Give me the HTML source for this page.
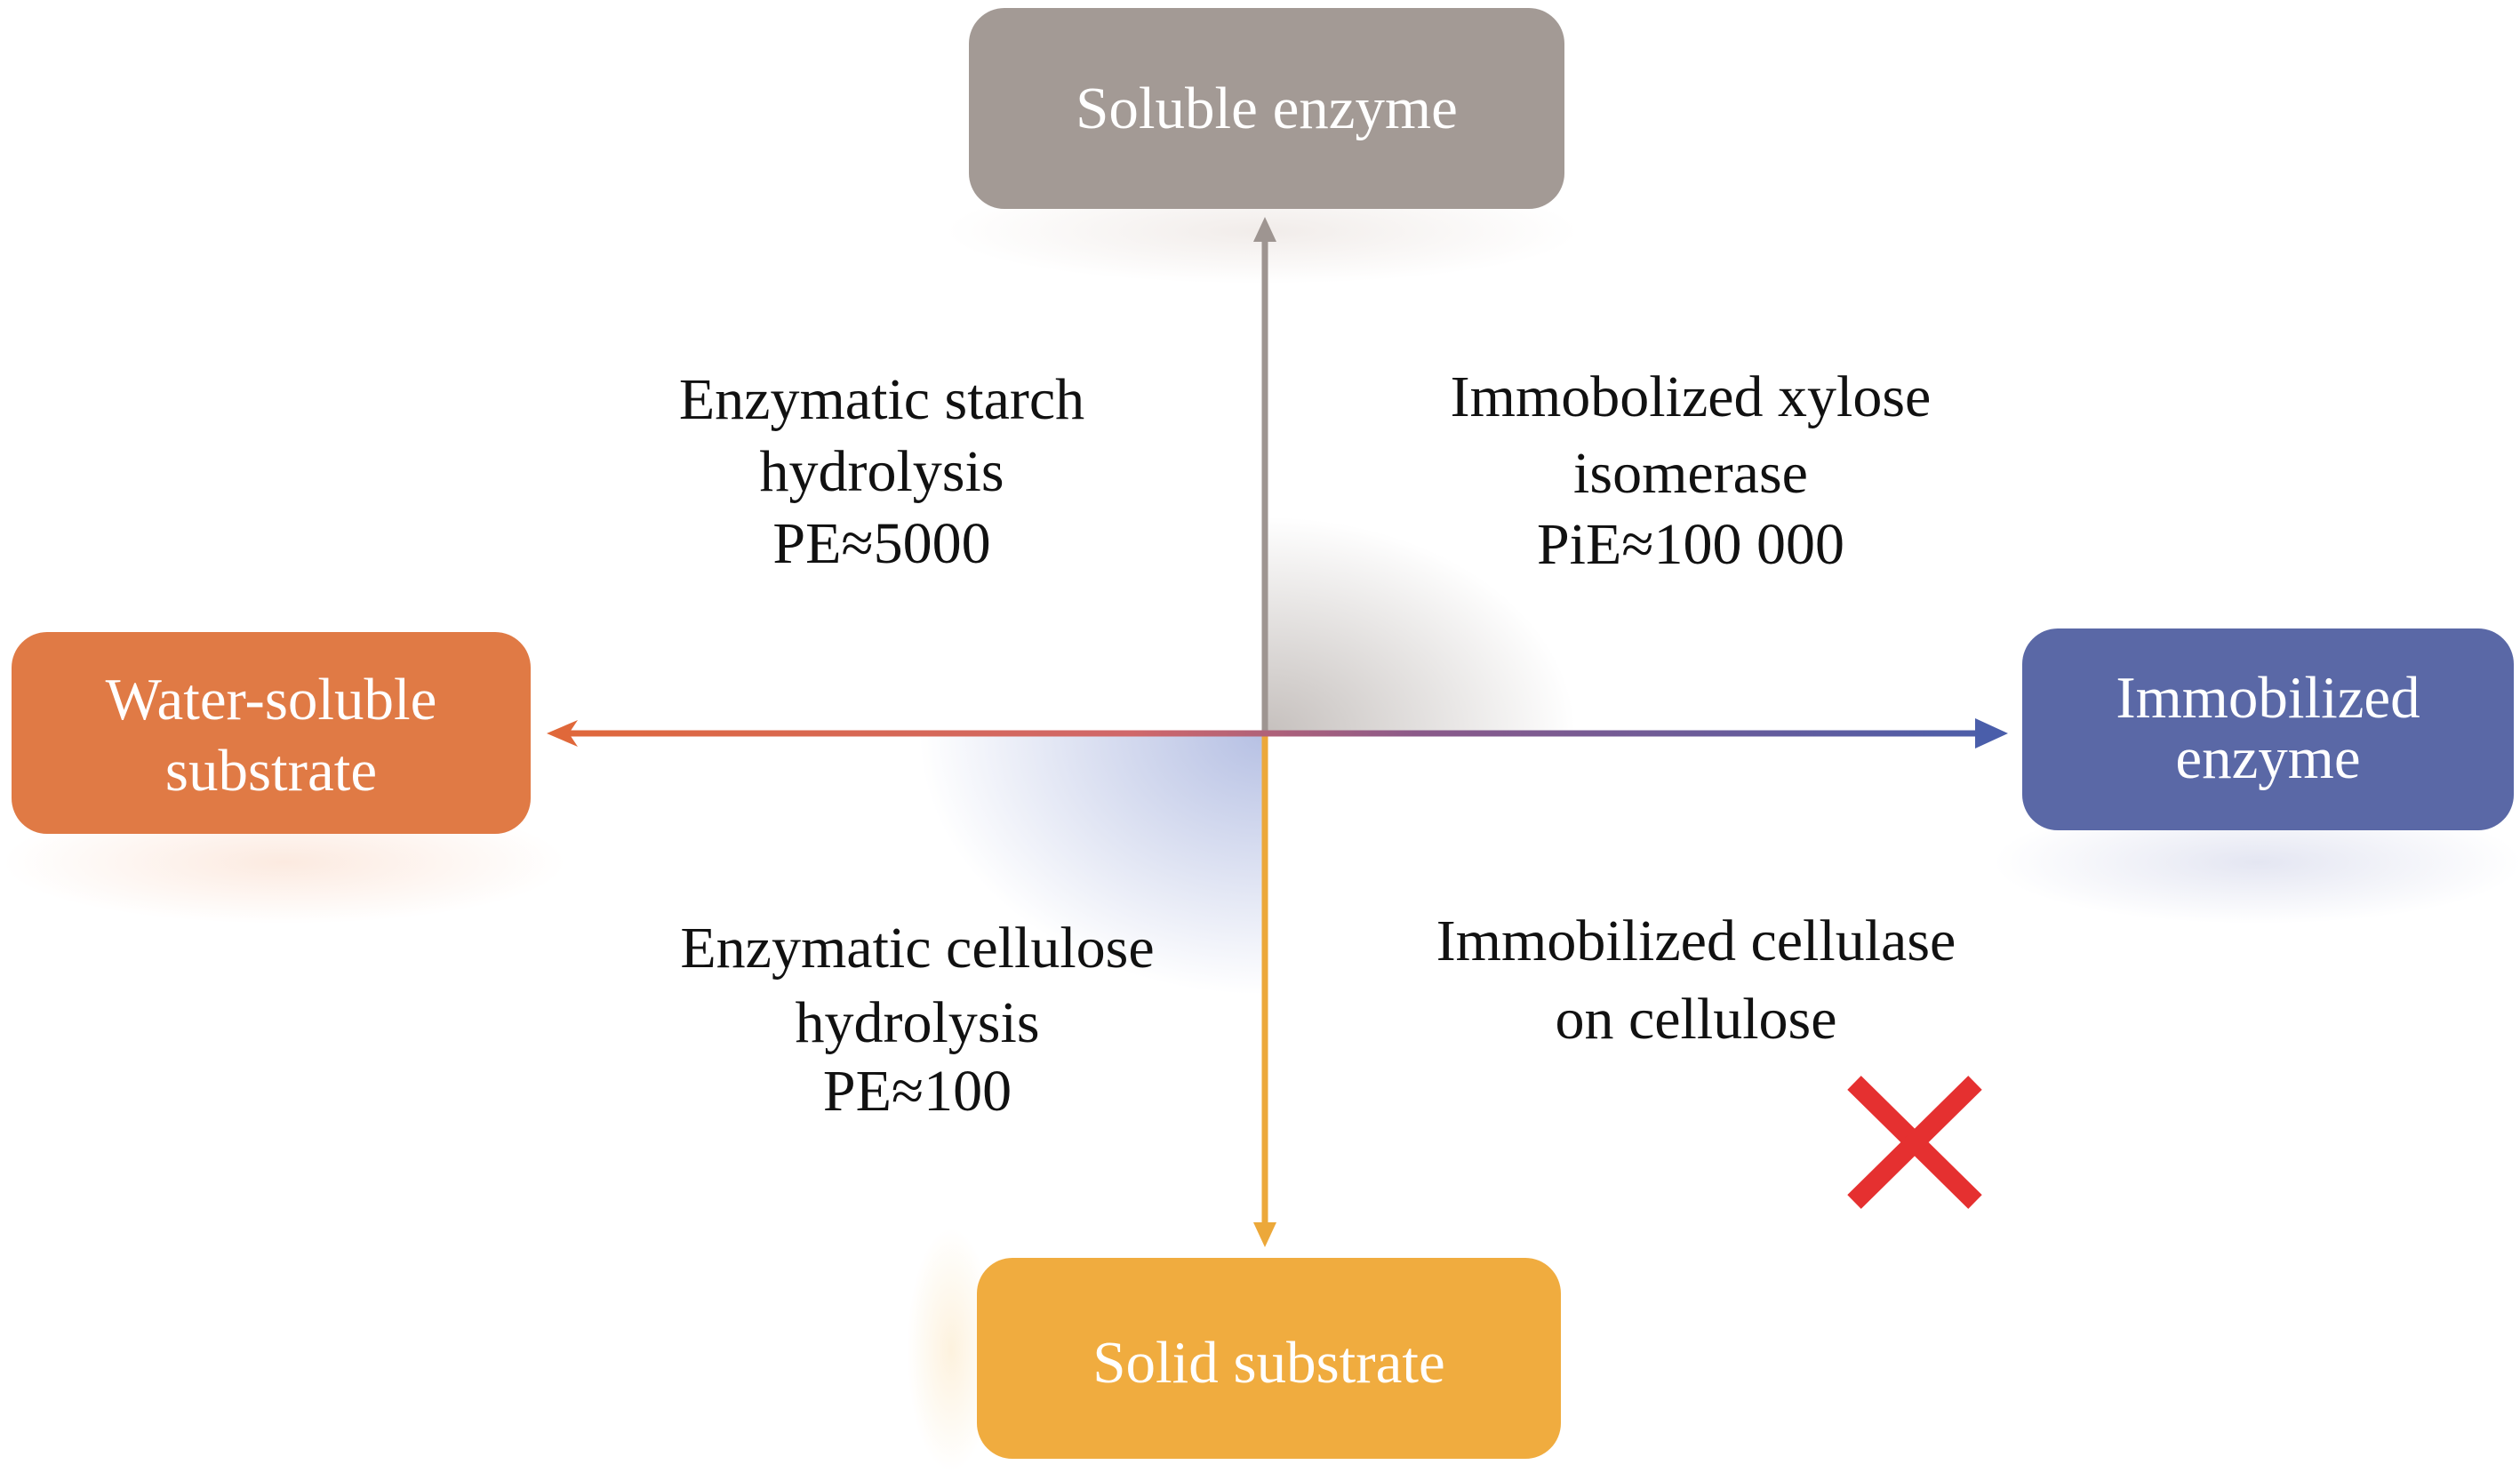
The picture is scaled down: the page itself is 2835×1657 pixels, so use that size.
<!DOCTYPE html>
<html><head><meta charset="utf-8"><style>
html,body{margin:0;padding:0;background:#fff;}
#c{position:relative;width:2835px;height:1657px;overflow:hidden;background:#fff;font-family:"Liberation Serif",serif;}
.box{position:absolute;border-radius:40px;color:#fff;font-size:67px;text-align:center;}
.t{position:absolute;width:800px;text-align:center;font-size:66px;color:#111;line-height:1;}
.line{position:absolute;white-space:nowrap;}
</style></head><body><div id="c">
<div style="position:absolute;left:1060px;top:200px;width:720px;height:120px;background:radial-gradient(ellipse at center,rgba(200,180,170,0.25),rgba(255,255,255,0) 70%);"></div>
<div style="position:absolute;left:0;top:900px;width:640px;height:140px;background:radial-gradient(ellipse at center,rgba(240,150,100,0.2),rgba(255,255,255,0) 70%);"></div>
<div style="position:absolute;left:2240px;top:900px;width:600px;height:140px;background:radial-gradient(ellipse at center,rgba(120,130,190,0.2),rgba(255,255,255,0) 70%);"></div>
<div style="position:absolute;left:1020px;top:1380px;width:100px;height:277px;background:radial-gradient(ellipse at center,rgba(245,190,90,0.2),rgba(255,255,255,0) 70%);"></div>
<div style="position:absolute;left:1423px;top:560px;width:380px;height:265px;background:radial-gradient(ellipse at 0% 100%,rgba(150,140,135,0.55),rgba(255,255,255,0) 65%);"></div>
<div style="position:absolute;left:1000px;top:825px;width:423px;height:320px;background:radial-gradient(ellipse at 100% 0%,rgba(110,130,200,0.5),rgba(255,255,255,0) 65%);"></div>

<svg style="position:absolute;left:0;top:0" width="2835" height="1657">
<defs>
<linearGradient id="gh" x1="615" y1="0" x2="2259" y2="0" gradientUnits="userSpaceOnUse">
<stop offset="0" stop-color="#e0683a"/><stop offset="0.4" stop-color="#d0686a"/><stop offset="0.6" stop-color="#8a5a8a"/><stop offset="1" stop-color="#4a5eaa"/></linearGradient>
</defs>
<line x1="1423" y1="262" x2="1423" y2="825" stroke="#9e9591" stroke-width="7"/>
<polygon points="1423,244 1410,272 1436,272" fill="#9e9591"/>
<line x1="1423" y1="825" x2="1423" y2="1385" stroke="#eca83a" stroke-width="7"/>
<polygon points="1423,1403 1410,1375 1436,1375" fill="#eca83a"/>
<line x1="635" y1="825" x2="2240" y2="825" stroke="url(#gh)" stroke-width="7"/>
<polygon points="615,825 650,810 640,825 650,840" fill="#e0683a"/>
<polygon points="2259,825 2222,808 2222,842" fill="#4a5eaa"/>
<g stroke="#e53030" stroke-width="22" stroke-linecap="butt">
<line x1="2086" y1="1218" x2="2222" y2="1352"/><line x1="2222" y1="1218" x2="2086" y2="1352"/></g>
</svg>

<div class="box" style="left:1090px;top:9px;width:670px;height:226px;background:#a39a95;"><div class="line" style="position:absolute;left:0;right:0;top:78px;line-height:70px;">Soluble enzyme</div></div>
<div class="box" style="left:13px;top:711px;width:584px;height:227px;background:#e07a45;"><div style="position:absolute;left:0;right:0;top:36px;line-height:80px;">Water-soluble<br>substrate</div></div>
<div class="box" style="left:2275px;top:707px;width:553px;height:227px;background:#5a68a6;"><div style="position:absolute;left:0;right:0;top:44px;line-height:68px;">Immobilized<br>enzyme</div></div>
<div class="box" style="left:1099px;top:1415px;width:657px;height:226px;background:#f0ac3f;"><div style="position:absolute;left:0;right:0;top:83px;line-height:70px;">Solid substrate</div></div>

<div class="t" style="left:592px;top:409px;"><div style="line-height:81px">Enzymatic starch<br>hydrolysis<br>PE≈5000</div></div>
<div class="t" style="left:1502px;top:401px;"><div style="line-height:92px">Immobolized xylose</div><div style="line-height:80px">isomerase<br>PiE≈100 000</div></div>
<div class="t" style="left:632px;top:1021px;"><div style="line-height:91px">Enzymatic cellulose</div><div style="line-height:77px">hydrolysis<br>PE≈100</div></div>
<div class="t" style="left:1508px;top:1015px;"><div style="line-height:88px">Immobilized cellulase<br>on cellulose</div></div>
</div></body></html>
